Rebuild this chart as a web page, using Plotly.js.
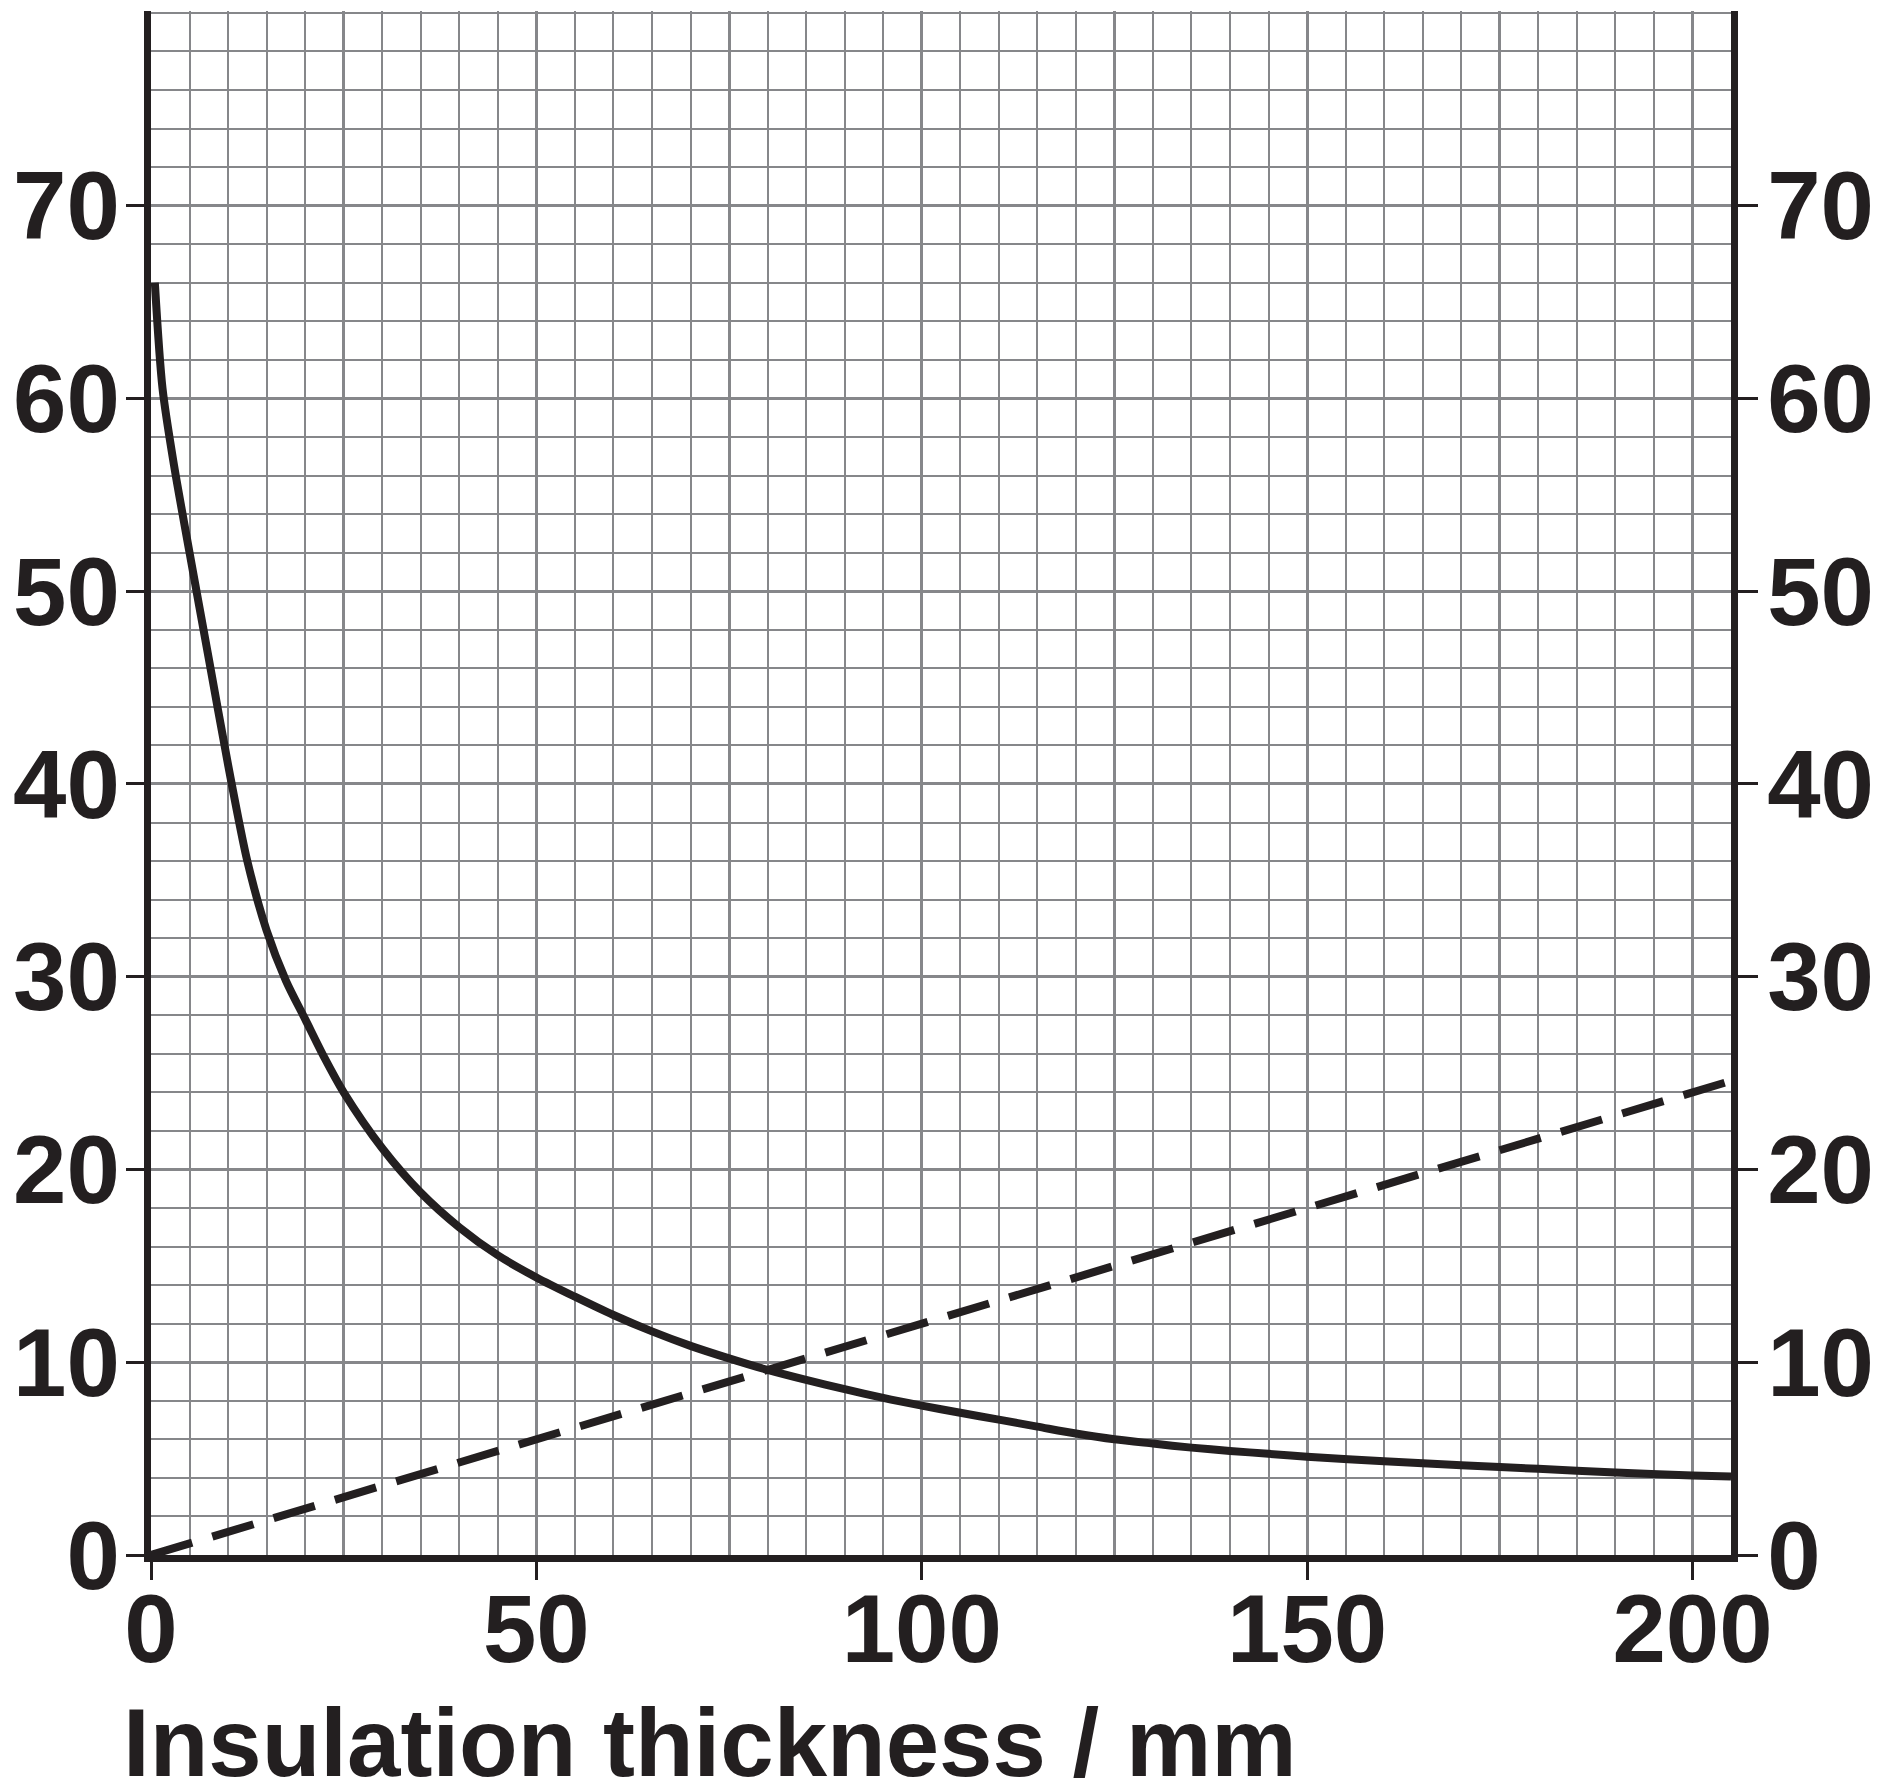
<!DOCTYPE html>
<html><head><meta charset="utf-8">
<script src="https://cdn.plot.ly/plotly-3.0.1.min.js"></script>
<style>html,body{margin:0;padding:0;background:#fff}</style>
</head><body><div id="chart" style="width:1890px;height:1786px"></div>
<script>
// Solid curve
const thickness = [0.5, 1.5, 3, 5, 7.5, 10, 12.5, 15, 17.5, 20, 22.5, 25, 30, 35, 40, 45, 50, 55, 60, 65, 70, 75, 80, 85, 90, 95, 100, 105, 110, 115, 120, 125, 130, 135, 140, 145, 150, 160, 170, 180, 190, 200, 205];
const solidValues = [66.0, 60.5, 56.5, 52.0, 46.5, 41.0, 36.0, 32.4, 29.8, 27.8, 25.8, 24.0, 21.1, 18.8, 17.0, 15.55, 14.4, 13.4, 12.45, 11.6, 10.85, 10.2, 9.6, 9.08, 8.6, 8.15, 7.75, 7.38, 7.02, 6.66, 6.3, 6.0, 5.78, 5.57, 5.4, 5.25, 5.1, 4.86, 4.66, 4.47, 4.28, 4.13, 4.07];
// Dashed line
const dashThickness = [0, 80, 205];
const dashValues = [0, 9.6, 24.6];
// Axes
const xTickVals = [0, 50, 100, 150, 200];
const xTickText = ['0', '50', '100', '150', '200'];
const xMidGridVals = [25, 75, 125, 175];
const yTickVals = [0, 10, 20, 30, 40, 50, 60, 70];
const yTickText = ['0', '10', '20', '30', '40', '50', '60', '70'];
const xTitle = 'Insulation thickness / mm';

const ink = '#231f20';
const gridCol = '#86878a';
const tickFont = {family: 'Liberation Sans, Arial, sans-serif', size: 96, color: ink, weight: 700};
const xRange = [0, 205];
const yRange = [0, 80.1];

const traces = [
  {x: thickness, y: solidValues, xaxis: 'x', yaxis: 'y', type: 'scatter', mode: 'lines',
   line: {color: ink, width: 8, shape: 'spline', smoothing: 0.8}, hoverinfo: 'skip'},
  {x: dashThickness, y: dashValues, xaxis: 'x2', yaxis: 'y2', type: 'scatter', mode: 'lines',
   line: {color: ink, width: 8, dash: '43px,21px'}, hoverinfo: 'skip'}
];

const layout = {
  width: 1890, height: 1786,
  margin: {l: 151, r: 159, t: 11, b: 231, pad: 0},
  paper_bgcolor: '#ffffff', plot_bgcolor: '#ffffff',
  showlegend: false,
  xaxis: {
    range: xRange, tickmode: 'array', tickvals: xTickVals, ticktext: xTickText,
    ticks: 'outside', ticklen: 18, tickwidth: 3, tickcolor: ink, tickfont: tickFont,
    ticklabelstandoff: -33,
    showline: true, linewidth: 7, linecolor: ink,
    showgrid: true, gridcolor: gridCol, gridwidth: 3, zeroline: false,
    minor: {dtick: 5, tick0: 0, showgrid: true, gridcolor: gridCol, gridwidth: 2, ticks: ''},
    fixedrange: true
  },
  xaxis2: {
    overlaying: 'x', anchor: 'y', range: xRange, tickmode: 'array', tickvals: xMidGridVals,
    showticklabels: false, ticks: '', showgrid: true, gridcolor: gridCol, gridwidth: 3,
    showline: false, zeroline: false, fixedrange: true
  },
  yaxis: {
    range: yRange, tickmode: 'array', tickvals: yTickVals, ticktext: yTickText,
    ticks: 'outside', ticklen: 18, tickwidth: 3, tickcolor: ink, tickfont: tickFont,
    ticklabelstandoff: -13,
    showline: true, linewidth: 7, linecolor: ink,
    showgrid: true, gridcolor: gridCol, gridwidth: 3, zeroline: false,
    minor: {dtick: 2, tick0: 0, showgrid: true, gridcolor: gridCol, gridwidth: 2, ticks: ''},
    fixedrange: true
  },
  yaxis2: {
    overlaying: 'y', side: 'right', anchor: 'x', range: yRange, tickmode: 'array',
    tickvals: yTickVals, ticktext: yTickText,
    ticks: 'outside', ticklen: 20, tickwidth: 3, tickcolor: ink, tickfont: tickFont,
    ticklabelstandoff: -10,
    showline: true, linewidth: 7, linecolor: ink, showgrid: false, zeroline: false,
    fixedrange: true
  },
  annotations: [{
    text: xTitle, xref: 'paper', yref: 'paper', x: -0.019, y: -0.1213,
    xanchor: 'left', yanchor: 'middle', showarrow: false,
    font: {family: 'Liberation Sans, Arial, sans-serif', size: 96, color: ink, weight: 700}
  }]
};

Plotly.newPlot('chart', traces, layout, {displayModeBar: false, staticPlot: true});
</script>
</body></html>
